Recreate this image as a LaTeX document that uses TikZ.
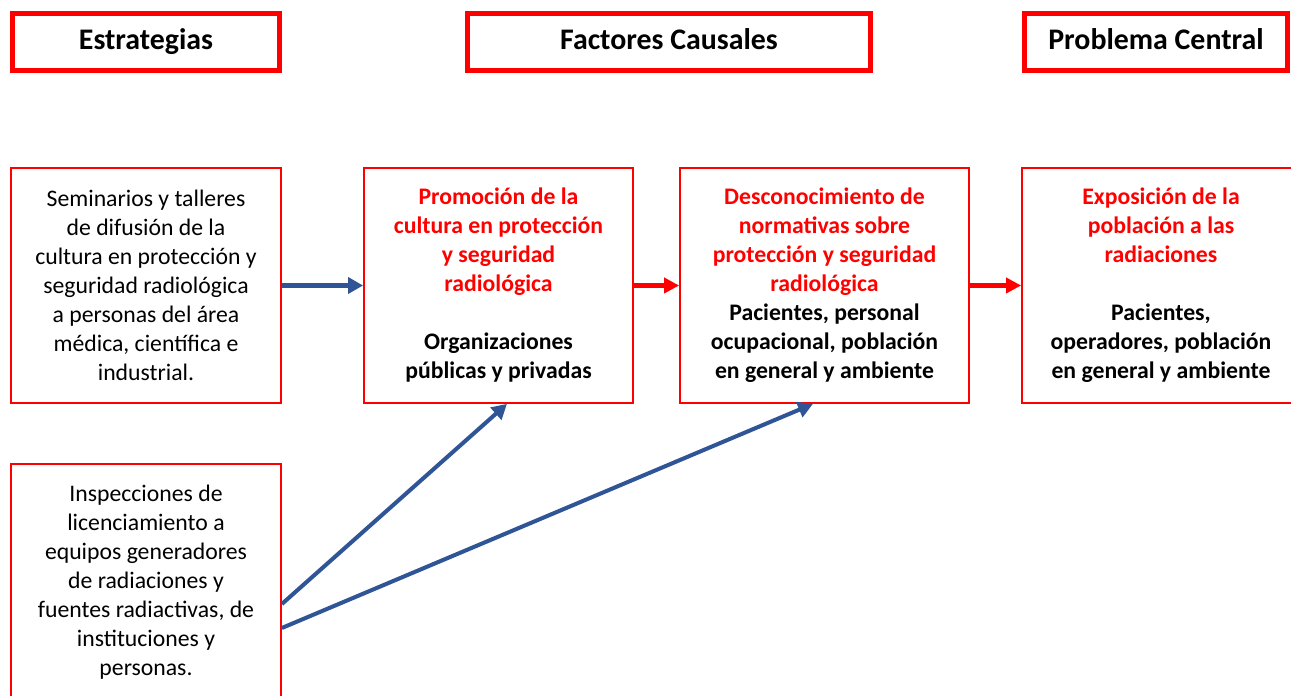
\documentclass[tikz,border=0pt]{standalone}
\usepackage{fontspec}
\setmainfont{Carlito}
\usepackage{tikz}
\usetikzlibrary{arrows.meta}
\definecolor{arrowblue}{RGB}{47,85,151}
\newcommand{\rt}[1]{\textcolor{red}{#1}}

\begin{document}
\begin{tikzpicture}[
      head/.style={draw=red, line width=2.8pt, align=center, minimum width=#1, minimum height=1.14cm, text height=0.9em, text depth=0.04em, font=\fontsize{17}{20}\selectfont\bfseries},
      box/.style={draw=red, line width=1pt, align=center, minimum width=#1, minimum height=4.7cm, inner sep=0pt, font=\fontsize{13.5}{16.5}\selectfont},
      bluearrow/.style={draw=arrowblue, line width=2.3pt, -{Triangle[length=8.5pt, width=9pt]}},
      redarrow/.style={draw=red, line width=2.3pt, -{Triangle[length=8.5pt, width=8.5pt]}}
    ]
      \useasboundingbox (0,0) rectangle (25.82,-13.92);

      \node[head=5.34cm] (est) at (2.92,-0.84) {Estrategias};
      \node[head=8.06cm] (fac) at (13.38,-0.84) {Factores Causales};
      \node[head=5.26cm] (prob) at (23.12,-0.84) {Problema Central};

      \node[box=5.4cm] (sem) at (2.92,-5.71) {Seminarios y talleres \\ de difusión de la \\ cultura en protección y \\ seguridad radiológica \\ a personas del área \\ médica, científica e \\ industrial.};
      \node[box=5.38cm, font=\fontsize{13.5}{16.5}\selectfont\bfseries] (prom) at (9.97,-5.71) {\rt{Promoción de la} \\ \rt{cultura en protección} \\ \rt{y seguridad} \\ \rt{radiológica} \\[16.5pt] Organizaciones \\ públicas y privadas};
      \node[box=5.78cm, font=\fontsize{13.5}{16.5}\selectfont\bfseries] (desc) at (16.49,-5.71) {\rt{Desconocimiento de} \\ \rt{normativas sobre} \\ \rt{protección y seguridad} \\ \rt{radiológica} \\ Pacientes, personal \\ ocupacional, población \\ en general y ambiente};
      \node[box=5.56cm, font=\fontsize{13.5}{16.5}\selectfont\bfseries] (expo) at (23.22,-5.71) {\rt{Exposición de la} \\ \rt{población a las} \\ \rt{radiaciones} \\[16.5pt] Pacientes, \\ operadores, población \\ en general y ambiente};
      \node[box=5.4cm, minimum height=4.72cm] (insp) at (2.92,-11.64) {Inspecciones de \\ licenciamiento a \\ equipos generadores \\ de radiaciones y \\ fuentes radiactivas, de \\ instituciones y \\ personas.};

      \draw[bluearrow] (sem) -- (prom);
      \draw[redarrow] (prom) -- (desc);
      \draw[redarrow] (desc) -- (expo);
      \draw[bluearrow] ([yshift=-0.44cm]insp.east) -- ([xshift=0.17cm]prom.south);
      \draw[bluearrow] ([yshift=-0.92cm]insp.east) -- ([xshift=-0.23cm]desc.south);
    \end{tikzpicture}
\end{document}
